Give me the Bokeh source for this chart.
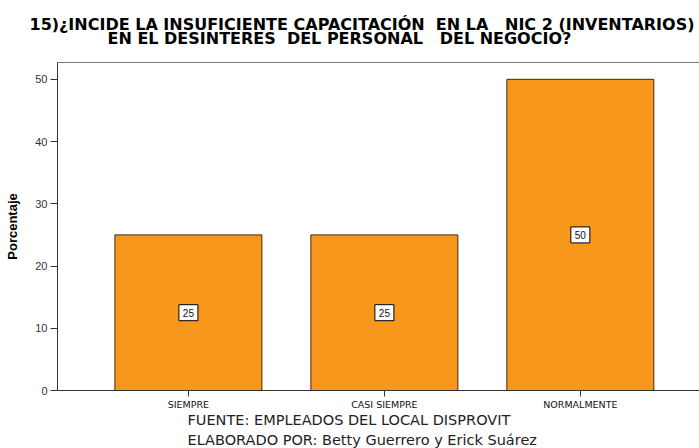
from bokeh.plotting import figure
from bokeh.models import Range1d, LinearAxis, FixedTicker, ColumnDataSource, Title
from bokeh.core.properties import value
from bokeh.embed import file_html
from bokeh.resources import INLINE

categories = ["SIEMPRE", "CASI SIEMPRE", "NORMALMENTE"]
percentages = [25, 25, 50]
bar_labels = ["25", "25", "50"]
y_ticks = [0, 10, 20, 30, 40, 50]
NB = "\u00a0"
title_lines = ["15)¿INCIDE LA INSUFICIENTE CAPACITACIÓN " + NB + "EN LA " + NB + NB + "NIC 2 (INVENTARIOS)",
               "EN EL DESINTERES " + NB + "DEL PERSONAL " + NB + NB + "DEL NEGOCIO?"]
footer_lines = ["FUENTE: EMPLEADOS DEL LOCAL DISPROVIT",
                "ELABORADO POR: Betty Guerrero y Erick Suárez"]
y_title = "Porcentaje"

positions = list(range(len(categories)))
source = ColumnDataSource(dict(x=positions, top=percentages,
                               mid=[v / 2 for v in percentages], label=bar_labels))

FONT = "Liberation Sans"
WIDE = "DejaVu Sans"

p = figure(width=699, height=448, output_backend="svg", toolbar_location=None,
           x_range=Range1d(-0.668, 2.608), y_range=Range1d(0, 52.7),
           min_border_left=57, min_border_right=0, min_border_top=62, min_border_bottom=58,
           outline_line_color=None, background_fill_color="white", border_fill_color="white")
p.xgrid.visible = False
p.ygrid.visible = False

p.vbar(x="x", top="top", bottom=0, width=0.75, source=source,
       fill_color="#F7981D", line_color="#3b2a12", line_width=1)

p.rect(x="x", y="mid", width=19, height=16, width_units="screen", height_units="screen",
       source=source, fill_color="white", line_color="black", line_width=1)
p.text(x="x", y="mid", text="label", source=source, text_align="center",
       text_baseline="middle", text_font=value(FONT), text_font_size="10px",
       text_color="#111111")

# y axis
ya = p.yaxis[0]
ya.ticker = FixedTicker(ticks=y_ticks)
ya.axis_label = y_title
ya.axis_label_text_font = FONT
ya.axis_label_text_font_style = "bold"
ya.axis_label_text_font_size = "13px"
ya.axis_label_text_color = "black"
ya.axis_label_standoff = 12
ya.major_label_text_font = FONT
ya.major_label_text_font_size = "11px"
ya.major_label_text_color = "#333333"
ya.major_tick_out = 7
ya.major_tick_in = 0
ya.minor_tick_line_color = None
ya.major_label_standoff = 3
ya.axis_line_color = "#333333"
ya.major_tick_line_color = "#333333"

# x axis
xa = p.xaxis[0]
xa.ticker = FixedTicker(ticks=positions)
xa.major_label_overrides = {i: c for i, c in zip(positions, categories)}
xa.major_label_text_font = WIDE
xa.major_label_text_font_size = "9.5px"
xa.major_label_text_color = "#111111"
xa.major_tick_out = 6
xa.major_tick_in = 0
xa.minor_tick_line_color = None
xa.major_label_standoff = 2
xa.axis_line_color = "#333333"
xa.major_tick_line_color = "#333333"

# top frame line
top_axis = LinearAxis(major_tick_line_color=None, minor_tick_line_color=None,
                      major_tick_out=0, major_tick_in=0, major_label_standoff=0,
                      major_label_text_font_size="0px", axis_line_color="#777777",
                      ticker=FixedTicker(ticks=[]))
p.add_layout(top_axis, "above")

# two-line title (second line indented)
title_text = title_lines[0] + "\n" + NB * 14 + title_lines[1]
p.add_layout(Title(text=title_text, align="left", offset=-28, vertical_align="top",
                   standoff=26, text_font=WIDE, text_font_size="16px",
                   text_font_style="bold", text_color="black", text_line_height=0.75), "above")

# two-line footer
footer_text = footer_lines[0] + "\n" + footer_lines[1]
p.add_layout(Title(text=footer_text, align="left", offset=130, vertical_align="bottom",
                   standoff=-5, text_font=WIDE, text_font_size="14.5px",
                   text_font_style="normal", text_color="#222222", text_line_height=1.24), "below")

open("out.html", "w").write(file_html(p, INLINE))
